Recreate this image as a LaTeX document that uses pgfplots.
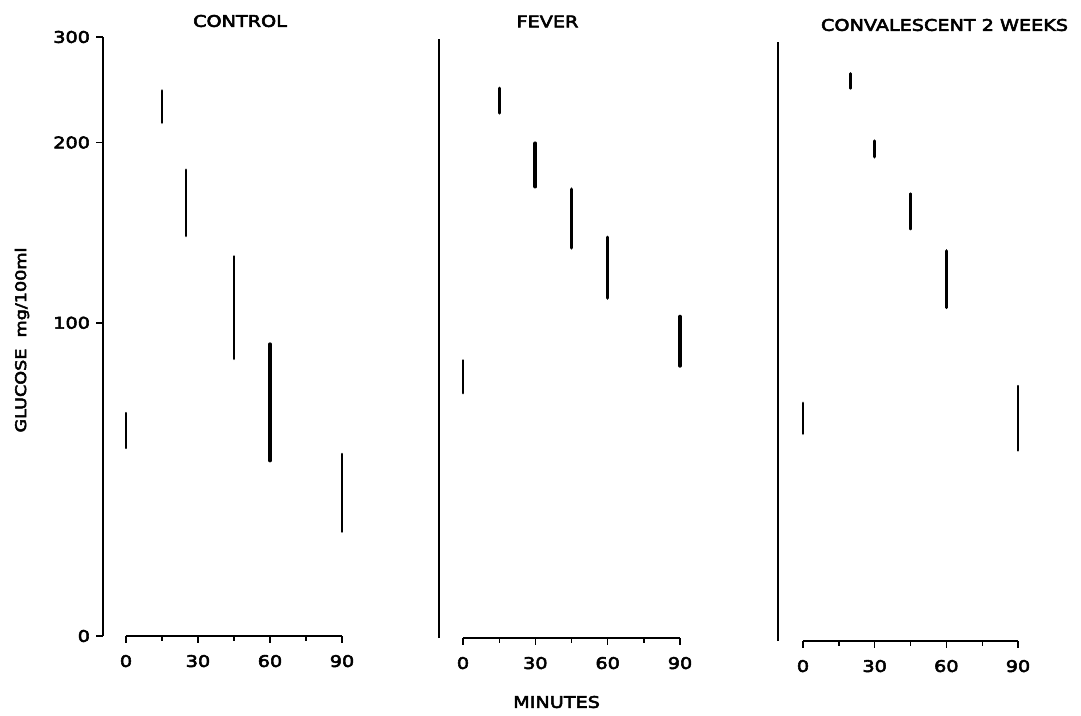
\documentclass[border=0pt]{standalone}
\usepackage{pgfplots}
\pgfplotsset{compat=1.18}
\usepackage{fontspec}
\setmainfont[FakeStretch=1.2, FakeBold=3.5]{DejaVu Sans}

\pgfplotsset{
  panel/.style={
    anchor=south west, scale only axis, clip=false,
    ymin=30, ymax=300,
    axis x line*=bottom, axis y line*=left,
    axis line style={-},
    x axis line style={draw=none},
    xtick={0,30,60,90}, minor xtick={15,45,75},
    tick align=outside,
    major tick length=5.25pt, minor tick length=3.5pt,
    every tick/.style={black, line width=1.1pt},
    every minor tick/.style={black, line width=1pt},
    /pgf/number format/assume math mode=true,
    ticklabel style={font=\fontsize{12}{14}\selectfont},
    xticklabel style={yshift=-5.5pt},
  },
  vbar/.style={black, line width=#1, line cap=round},
}

\begin{document}
\begin{tikzpicture}
\path[use as bounding box] (0,0) rectangle (810.75pt,-536.25pt);

% ---------------- CONTROL ----------------
\begin{axis}[ymode=log, panel,
  at={(77.25pt,-477pt)}, width=179.25pt, height=449.25pt,
  xmin=-9.583, xmax=90,
  y axis line style={line width=1.2pt},
  ytick={30,100,200,300}, yticklabels={0,100,200,300},
  yticklabel style={xshift=-1pt},
  ]
  \draw[line width=1.4pt] (axis cs:0,30) -- (axis cs:90,30);
  \addplot[vbar=1.6pt] coordinates {(0,61.8) (0,70.7)};
  \addplot[vbar=2.2pt] coordinates {(15,215.9) (15,244.1)};
  \addplot[vbar=2.2pt] coordinates {(25,139.7) (25,180.0)};
  \addplot[vbar=2.2pt] coordinates {(45,87.1) (45,129.0)};
  \addplot[vbar=2.8pt] coordinates {(60,58.9) (60,92.1)};
  \addplot[vbar=1.9pt] coordinates {(90,44.8) (90,60.4)};
\end{axis}

% ---------------- FEVER ----------------
\begin{axis}[ymode=log, panel,
  at={(329.25pt,-478.5pt)}, width=180.75pt, height=449.25pt,
  xmin=-9.95, xmax=90,
  y axis line style={line width=1.6pt},
  ytick=\empty,
  ]
  \draw[line width=1.4pt] (axis cs:0,30) -- (axis cs:90,30);
  \addplot[vbar=1.9pt] coordinates {(0,76.9) (0,87.2)};
  \addplot[vbar=2.2pt] coordinates {(15,225.6) (15,248.3)};
  \addplot[vbar=2.8pt] coordinates {(30,170.1) (30,200.9)};
  \addplot[vbar=2.8pt] coordinates {(45,134.4) (45,168.4)};
  \addplot[vbar=2.5pt] coordinates {(60,110.8) (60,140.0)};
  \addplot[vbar=2.8pt] coordinates {(90,85.4) (90,103.2)};
\end{axis}

% ---------------- CONVALESCENT ----------------
\begin{axis}[ymode=log, panel,
  at={(583.5pt,-480.75pt)}, width=180pt, height=449.25pt,
  xmin=-10.46, xmax=90,
  y axis line style={line width=1.6pt},
  ytick=\empty,
  ]
  \draw[line width=1.4pt] (axis cs:0,30) -- (axis cs:90,30);
  \addplot[vbar=2.2pt] coordinates {(0,66.6) (0,74.9)};
  \addplot[vbar=2.2pt] coordinates {(20,251.1) (20,265.7)};
  \addplot[vbar=2.4pt] coordinates {(30,192.9) (30,205.1)};
  \addplot[vbar=1.9pt] coordinates {(45,146.1) (45,167.5)};
  \addplot[vbar=2.5pt] coordinates {(60,108.1) (60,134.4)};
  \addplot[vbar=1.6pt] coordinates {(90,62.4) (90,80.0)};
\end{axis}

% ---------------- texts ----------------
\node[font=\fontsize{12}{14}\selectfont] at (180pt,-15.75pt) {CONTROL};
\node[font=\fontsize{12}{14}\selectfont] at (410.6pt,-16.1pt) {FEVER};
\node[font=\fontsize{12}{14}\selectfont] at (708.4pt,-18.75pt) {CONVALESCENT 2 WEEKS};
\node[font=\fontsize{12}{14}\selectfont] at (417.4pt,-526.5pt) {MINUTES};
\node[font=\fontsize{11}{13}\selectfont, rotate=90] at (16.5pt,-255pt) {GLUCOSE\ \ mg/100ml};
\end{tikzpicture}
\end{document}
